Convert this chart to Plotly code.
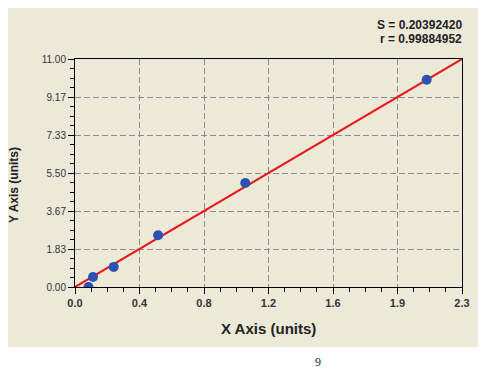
import plotly.graph_objects as go

# Data
x_points = [0.080, 0.107, 0.230, 0.494, 1.012, 2.090]
y_points = [0.00, 0.48, 0.97, 2.50, 5.02, 10.00]
fit_x = [0.0, 2.3]
fit_y = [0.0, 11.0]
x_tickvals = [0, 2.3/6, 2*2.3/6, 3*2.3/6, 4*2.3/6, 5*2.3/6, 2.3]
x_ticktext = ["0.0", "0.4", "0.8", "1.2", "1.6", "1.9", "2.3"]
y_tickvals = [0, 11/6, 2*11/6, 3*11/6, 4*11/6, 5*11/6, 11]
y_ticktext = ["0.00", "1.83", "3.67", "5.50", "7.33", "9.17", "11.00"]
stats_text = ["S = 0.20392420", "r = 0.99884952"]

OFF = 8  # page body margin
W, H = 502 - OFF, 387 - OFF
L, R, T, B = 75 - OFF, 40, 59 - OFF, 100
pw, ph = W - L - R, H - T - B

def px(x):
    return (x - OFF - L) / pw

def py(y):
    return (H - B - (y - OFF)) / ph

fig = go.Figure()
fig.add_trace(go.Scatter(x=fit_x, y=fit_y, mode="lines",
                         line=dict(color="#E8161B", width=2), hoverinfo="skip"))
fig.add_trace(go.Scatter(x=x_points, y=y_points, mode="markers",
                         marker=dict(color="#2A52B2", size=10, line=dict(width=0))))

fig.add_shape(type="rect", xref="paper", yref="paper",
              x0=px(2), x1=px(478), y0=py(347), y1=py(8),
              fillcolor="#ECE9D8", line=dict(width=0), layer="below")

fig.update_layout(
    width=W, height=H,
    margin=dict(l=L, r=R, t=T, b=B),
    paper_bgcolor="white", plot_bgcolor="white",
    showlegend=False,
    font=dict(family="Liberation Sans, Arial, sans-serif", color="#222"),
)
fig.update_xaxes(range=[0, 2.3], tickmode="array", tickvals=x_tickvals,
                 ticktext=["<b>" + t + "</b>" for t in x_ticktext],
                 showgrid=True, gridcolor="#8c8c8c", griddash="6px,3px", gridwidth=1,
                 showline=True, linecolor="black", linewidth=1, mirror=True,
                 ticks="outside", ticklen=6, tickcolor="black",
                 tickfont=dict(size=11, color="#333"),
                 minor=dict(tick0=0, dtick=2.3/24, ticks="outside", ticklen=4, tickcolor="black", showgrid=False),
                 zeroline=False)
fig.update_yaxes(range=[0, 11], tickmode="array", tickvals=y_tickvals, ticktext=y_ticktext,
                 showgrid=True, gridcolor="#8c8c8c", griddash="6px,3px", gridwidth=1,
                 showline=True, linecolor="black", linewidth=1, mirror=True,
                 ticks="outside", ticklen=6, tickcolor="black",
                 tickfont=dict(size=10, color="#333"),
                 minor=dict(tick0=0, dtick=11/24, ticks="outside", ticklen=4, tickcolor="black", showgrid=False),
                 zeroline=False)

fig.add_annotation(xref="paper", yref="paper", x=px(268), y=py(328),
                   text="<b>X Axis (units)</b>", showarrow=False,
                   font=dict(size=15, color="#222"), xanchor="center", yanchor="middle")
fig.add_annotation(xref="paper", yref="paper", x=px(14), y=py(185),
                   text="<b>Y Axis (units)</b>", showarrow=False, textangle=-90,
                   font=dict(size=12, color="#222"), xanchor="center", yanchor="middle")
fig.add_annotation(xref="paper", yref="paper", x=px(464), y=py(25),
                   text="<b>" + stats_text[0] + "</b>", showarrow=False,
                   font=dict(size=12, color="#222"), xanchor="right", yanchor="middle")
fig.add_annotation(xref="paper", yref="paper", x=px(464), y=py(39),
                   text="<b>" + stats_text[1] + "</b>", showarrow=False,
                   font=dict(size=12, color="#222"), xanchor="right", yanchor="middle")
fig.add_annotation(xref="paper", yref="paper", x=px(318), y=py(362),
                   text="9", showarrow=False,
                   font=dict(size=12, color="#222", family="Liberation Serif, serif"),
                   xanchor="center", yanchor="middle")

fig.write_html("out.html")
